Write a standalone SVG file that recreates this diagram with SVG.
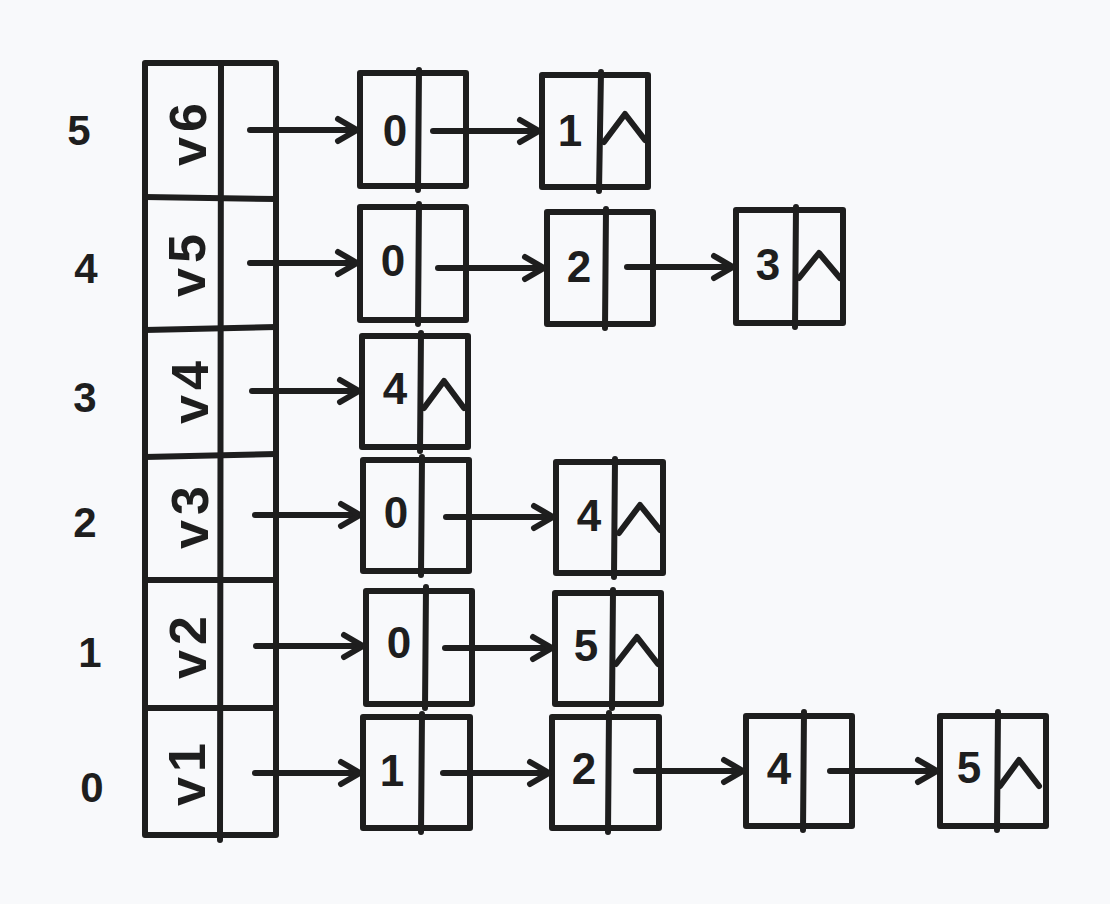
<svg xmlns="http://www.w3.org/2000/svg" width="1110" height="904" viewBox="0 0 1110 904">
<style>
.s{fill:none;stroke:#1e1e1e;stroke-width:6;stroke-linecap:round;stroke-linejoin:round}
.t{font-family:"Liberation Sans",Arial,sans-serif;font-weight:bold;fill:#1e1e1e;text-anchor:middle;dominant-baseline:central}
.d{font-size:44px}
.r{font-size:42px}
.v{font-size:52px;letter-spacing:5px}
</style>
<defs>
<marker id="ah" viewBox="0 0 26 30" refX="23" refY="15" markerWidth="26" markerHeight="30" markerUnits="userSpaceOnUse" orient="auto">
<path d="M4,4 L23,15 L4,26" fill="none" stroke="#1e1e1e" stroke-width="6" stroke-linecap="round" stroke-linejoin="round"/>
</marker>
</defs>
<rect width="1110" height="904" fill="#f8f9fb"/>

<g id="row-labels">
<text class="t r" x="79" y="130">5</text>
<text class="t r" x="86" y="268">4</text>
<text class="t r" x="85" y="397">3</text>
<text class="t r" x="85" y="522">2</text>
<text class="t r" x="90" y="652">1</text>
<text class="t r" x="92" y="787">0</text>
</g>

<g id="table">
<rect class="s" x="145" y="63" width="131" height="772"/>
<line class="s" x1="221" y1="63" x2="220" y2="840"/>
<line class="s" x1="145" y1="197" x2="276" y2="199"/>
<line class="s" x1="145" y1="330" x2="276" y2="327"/>
<line class="s" x1="145" y1="457" x2="276" y2="454"/>
<line class="s" x1="145" y1="580" x2="276" y2="580"/>
<line class="s" x1="145" y1="708" x2="276" y2="708"/>
<text class="t v" transform="translate(188,132) rotate(-90)">v6</text>
<text class="t v" transform="translate(187,263) rotate(-90)">v5</text>
<text class="t v" transform="translate(190,390) rotate(-90)">v4</text>
<text class="t v" transform="translate(190,515) rotate(-90)">v3</text>
<text class="t v" transform="translate(188,645) rotate(-90)">v2</text>
<text class="t v" transform="translate(187,772) rotate(-90)">v1</text>
</g>

<!-- row 5 -->
<g id="n5a"><rect class="s" x="360" y="73" width="106" height="113"/><line class="s" x1="419" y1="70" x2="418" y2="190"/><text class="t d" x="395" y="130">0</text></g>
<g id="n5b"><rect class="s" x="542" y="75" width="106" height="112"/><line class="s" x1="601" y1="72" x2="599" y2="191"/><text class="t d" x="570" y="130">1</text><polyline class="s" points="604,142 625,114 645,140"/></g>

<!-- row 4 -->
<g id="n4a"><rect class="s" x="360" y="207" width="106" height="113"/><line class="s" x1="419" y1="204" x2="418" y2="324"/><text class="t d" x="393" y="260">0</text></g>
<g id="n4b"><rect class="s" x="547" y="212" width="106" height="112"/><line class="s" x1="606" y1="209" x2="605" y2="328"/><text class="t d" x="579" y="266">2</text></g>
<g id="n4c"><rect class="s" x="736" y="210" width="107" height="113"/><line class="s" x1="796" y1="207" x2="795" y2="327"/><text class="t d" x="768" y="264">3</text><polyline class="s" points="799,278 819,253 840,278"/></g>

<!-- row 3 -->
<g id="n3a"><rect class="s" x="362" y="336" width="106" height="111"/><line class="s" x1="421" y1="333" x2="420" y2="451"/><text class="t d" x="395" y="388">4</text><polyline class="s" points="424,408 444,381 464,408"/></g>

<!-- row 2 -->
<g id="n2a"><rect class="s" x="363" y="460" width="106" height="111"/><line class="s" x1="422" y1="457" x2="421" y2="575"/><text class="t d" x="396" y="512">0</text></g>
<g id="n2b"><rect class="s" x="556" y="462" width="107" height="111"/><line class="s" x1="615" y1="459" x2="614" y2="577"/><text class="t d" x="589" y="515">4</text><polyline class="s" points="619,533 640,505 660,530"/></g>

<!-- row 1 -->
<g id="n1a"><rect class="s" x="366" y="591" width="106" height="113"/><line class="s" x1="426" y1="587" x2="425" y2="708"/><text class="t d" x="399" y="642">0</text></g>
<g id="n1b"><rect class="s" x="555" y="593" width="106" height="111"/><line class="s" x1="613" y1="590" x2="612" y2="708"/><text class="t d" x="586" y="645">5</text><polyline class="s" points="616,664 637,637 658,664"/></g>

<!-- row 0 -->
<g id="n0a"><rect class="s" x="363" y="717" width="107" height="111"/><line class="s" x1="422" y1="714" x2="421" y2="832"/><text class="t d" x="392" y="770">1</text></g>
<g id="n0b"><rect class="s" x="552" y="717" width="107" height="111"/><line class="s" x1="609" y1="713" x2="608" y2="832"/><text class="t d" x="584" y="768">2</text></g>
<g id="n0c"><rect class="s" x="746" y="716" width="106" height="110"/><line class="s" x1="804" y1="712" x2="803" y2="830"/><text class="t d" x="779" y="768">4</text></g>
<g id="n0d"><rect class="s" x="940" y="716" width="106" height="110"/><line class="s" x1="998" y1="712" x2="997" y2="830"/><text class="t d" x="969" y="767">5</text><polyline class="s" points="1000,786 1019,760 1039,786"/></g>

<g id="connectors" class="s">
<line x1="250" y1="130" x2="357" y2="130" marker-end="url(#ah)"/>
<line x1="433" y1="131" x2="539" y2="131" marker-end="url(#ah)"/>
<line x1="250" y1="263" x2="357" y2="263" marker-end="url(#ah)"/>
<line x1="438" y1="268" x2="544" y2="268" marker-end="url(#ah)"/>
<line x1="627" y1="267" x2="733" y2="267" marker-end="url(#ah)"/>
<line x1="252" y1="391" x2="359" y2="391" marker-end="url(#ah)"/>
<line x1="255" y1="515" x2="360" y2="515" marker-end="url(#ah)"/>
<line x1="446" y1="517" x2="553" y2="517" marker-end="url(#ah)"/>
<line x1="256" y1="646" x2="363" y2="646" marker-end="url(#ah)"/>
<line x1="445" y1="648" x2="552" y2="648" marker-end="url(#ah)"/>
<line x1="255" y1="773" x2="360" y2="773" marker-end="url(#ah)"/>
<line x1="443" y1="773" x2="549" y2="773" marker-end="url(#ah)"/>
<line x1="636" y1="771" x2="743" y2="771" marker-end="url(#ah)"/>
<line x1="830" y1="771" x2="937" y2="771" marker-end="url(#ah)"/>
</g>
</svg>
